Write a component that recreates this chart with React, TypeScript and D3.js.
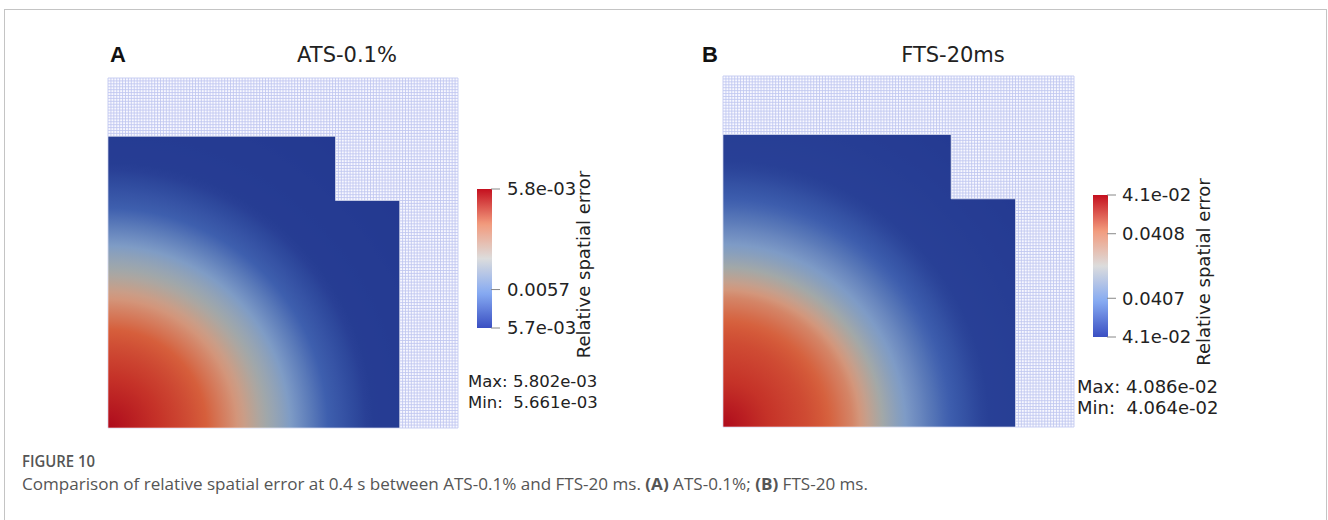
import React from 'react';
import * as d3 from 'd3';

// radial profile of the error field, read along the bottom edge from the hot corner
const profileRadius = [0, 0.15, 0.3, 0.45, 0.6, 0.75, 0.9, 1.45];
const errorA = [5.802e-3, 5.785e-3, 5.768e-3, 5.746e-3, 5.720e-3, 5.690e-3, 5.665e-3, 5.661e-3];
const errorB = [4.086e-2, 4.083e-2, 4.081e-2, 4.078e-2, 4.073e-2, 4.069e-2, 4.065e-2, 4.064e-2];

// L-shaped domain (unit square with a corner notch), mesh covers 1.2 x 1.2
const domainShape = [[0, 0], [1, 0], [1, 0.78], [0.78, 0.78], [0.78, 1], [0, 1]];
const meshExtent = 1.2;
const meshCells = 120;

const titles = ['ATS-0.1%', 'FTS-20ms'];
const letters = ['A', 'B'];
const ranges = [[5.661e-3, 5.802e-3], [4.064e-2, 4.086e-2]];
const tickValuesA = [5.661e-3, 0.0057, 5.802e-3];
const tickLabelsA = ['5.7e-03', '0.0057', '5.8e-03'];
const tickValuesB = [4.064e-2, 0.0407, 0.0408, 4.086e-2];
const tickLabelsB = ['4.1e-02', '0.0407', '0.0408', '4.1e-02'];
const maxLabels = ['Max: 5.802e-03', 'Max: 4.086e-02'];
const minLabels = ['Min:  5.661e-03', 'Min:  4.064e-02'];

// cool-to-warm colormap: bar (unlit) and field (shaded render)
const mapStops = [0, 0.25, 0.5, 0.75, 1];
const barColors = ['#3a4fc2', '#86aaf2', '#dcdcdc', '#f29a7c', '#c4101f'];
const fieldStops = [0, 0.2, 0.38, 0.5, 0.6, 0.72, 0.86, 1];
const fieldColors = ['#22378f', '#3e5fae', '#7e9bc6', '#a5a9a6', '#d39a80', '#d65f3c', '#c53228', '#ae0a1c'];

const panels = [
  { key: 'A', x0: 108, y0: 428, size: 350, bar: { x: 477, top: 189, bottom: 328 }, label: { x: 507 }, axisX: 584, stats: { x: 468, y: 387, size: 16.5 }, title: 347, letter: 110, profile: errorA, ticks: tickValuesA, tickLabels: tickLabelsA },
  { key: 'B', x0: 723, y0: 427, size: 351, bar: { x: 1093, top: 195, bottom: 337 }, label: { x: 1122 }, axisX: 1204, stats: { x: 1077, y: 393, size: 18 }, title: 953, letter: 702, profile: errorB, ticks: tickValuesB, tickLabels: tickLabelsB },
];

const barColor = d3.scaleLinear<string>().domain(mapStops).range(barColors).interpolate(d3.interpolateRgb);
const fieldColor = d3.scaleLinear<string>().domain(fieldStops).range(fieldColors).interpolate(d3.interpolateRgb);

const sans = '"DejaVu Sans", Verdana, sans-serif';

function Panel({ p, i }: { p: typeof panels[number]; i: number }) {
  const x = d3.scaleLinear().domain([0, meshExtent]).range([p.x0, p.x0 + p.size]);
  const y = d3.scaleLinear().domain([0, meshExtent]).range([p.y0, p.y0 - p.size]);
  const [lo, hi] = ranges[i];
  const t = d3.scaleLinear().domain([lo, hi]).range([0, 1]).clamp(true);
  const profile = d3.scaleLinear().domain(profileRadius).range(p.profile).clamp(true);
  const rMax = 1.3;
  const rPx = x(rMax) - x(0);
  const offsets = d3.range(0, 1.0001, 0.02);
  const line = d3.line().x(d => x(d[0])).y(d => y(d[1]));
  const meshLines = d3.range(0, meshCells + 1).map(k => (k * meshExtent) / meshCells);

  const barScale = d3.scaleLinear().domain([lo, hi]).range([p.bar.bottom, p.bar.top]);
  const barW = 15;
  const fieldId = `field-${p.key}`;
  const barId = `bar-${p.key}`;

  return (
    <g>
      <defs>
        <radialGradient id={fieldId} gradientUnits="userSpaceOnUse" cx={x(0)} cy={y(0)} r={rPx}>
          {offsets.map(o => (
            <stop key={o} offset={o} stopColor={fieldColor(t(profile(o * rMax)))} />
          ))}
        </radialGradient>
        <linearGradient id={barId} x1="0" y1="1" x2="0" y2="0">
          {offsets.map(o => (
            <stop key={o} offset={o} stopColor={barColor(o)} />
          ))}
        </linearGradient>
      </defs>

      <text x={p.letter} y={62} fontFamily='"Liberation Sans", Arial, sans-serif' fontWeight="bold" fontSize={22} fill="#111">{letters[i]}</text>
      <text x={p.title} y={62} textAnchor="middle" fontFamily={sans} fontSize={21} fill="#222">{titles[i]}</text>

      <rect x={x(0)} y={y(meshExtent)} width={p.size} height={p.size} fill="#f8f8ff" />
      <g stroke="#bfc6f0" strokeWidth={0.85}>
        {meshLines.map(v => (
          <line key={'v' + v} x1={x(v)} x2={x(v)} y1={y(0)} y2={y(meshExtent)} />
        ))}
        {meshLines.map(v => (
          <line key={'h' + v} y1={y(v)} y2={y(v)} x1={x(0)} x2={x(meshExtent)} />
        ))}
      </g>
      <path d={line(domainShape as [number, number][]) + 'Z'} fill={`url(#${fieldId})`} stroke="rgba(255,255,255,0.55)" strokeWidth={1} />

      <rect x={p.bar.x} y={p.bar.top} width={barW} height={p.bar.bottom - p.bar.top} fill={`url(#${barId})`} />
      <g fontFamily={sans} fontSize={18} fill="#222">
        {p.ticks.map((v, k) => (
          <g key={k}>
            <line x1={p.bar.x + barW - 1} x2={p.bar.x + barW + 8} y1={barScale(v)} y2={barScale(v)} stroke="#888" strokeWidth={1} />
            <text x={p.label.x} y={barScale(v)} dy="0.35em">{p.tickLabels[k]}</text>
          </g>
        ))}
        <text transform={`translate(${p.axisX},${(p.bar.top + p.bar.bottom) / 2 + 6}) rotate(-90)`} textAnchor="middle" dy="0.35em">Relative spatial error</text>
        <text x={p.stats.x} y={p.stats.y} fontSize={p.stats.size} style={{ whiteSpace: 'pre' }}>{maxLabels[i]}</text>
        <text x={p.stats.x} y={p.stats.y + 21} fontSize={p.stats.size} style={{ whiteSpace: 'pre' }}>{minLabels[i]}</text>
      </g>
    </g>
  );
}

export default function App() {
  return (
    <svg width={1328} height={520} style={{ position: 'absolute', left: 0, top: 0, background: '#fff' }}>
      <rect x={4.5} y={9.5} width={1322} height={530} fill="#fff" stroke="#c4c4c4" strokeWidth={1} />
      {panels.map((p, i) => (
        <Panel key={p.key} p={p} i={i} />
      ))}
      <g fontFamily='"Open Sans", sans-serif' fill="#555">
        <text x={22} y={467} fontSize={16} fontWeight={600} textLength={73} lengthAdjust="spacingAndGlyphs">FIGURE 10</text>
        <text x={22} y={490} fontSize={16} textLength={846} lengthAdjust="spacingAndGlyphs">
          Comparison of relative spatial error at 0.4 s between ATS-0.1% and FTS-20 ms. <tspan fontWeight="bold">(A)</tspan> ATS-0.1%; <tspan fontWeight="bold">(B)</tspan> FTS-20 ms.
        </text>
      </g>
    </svg>
  );
}
